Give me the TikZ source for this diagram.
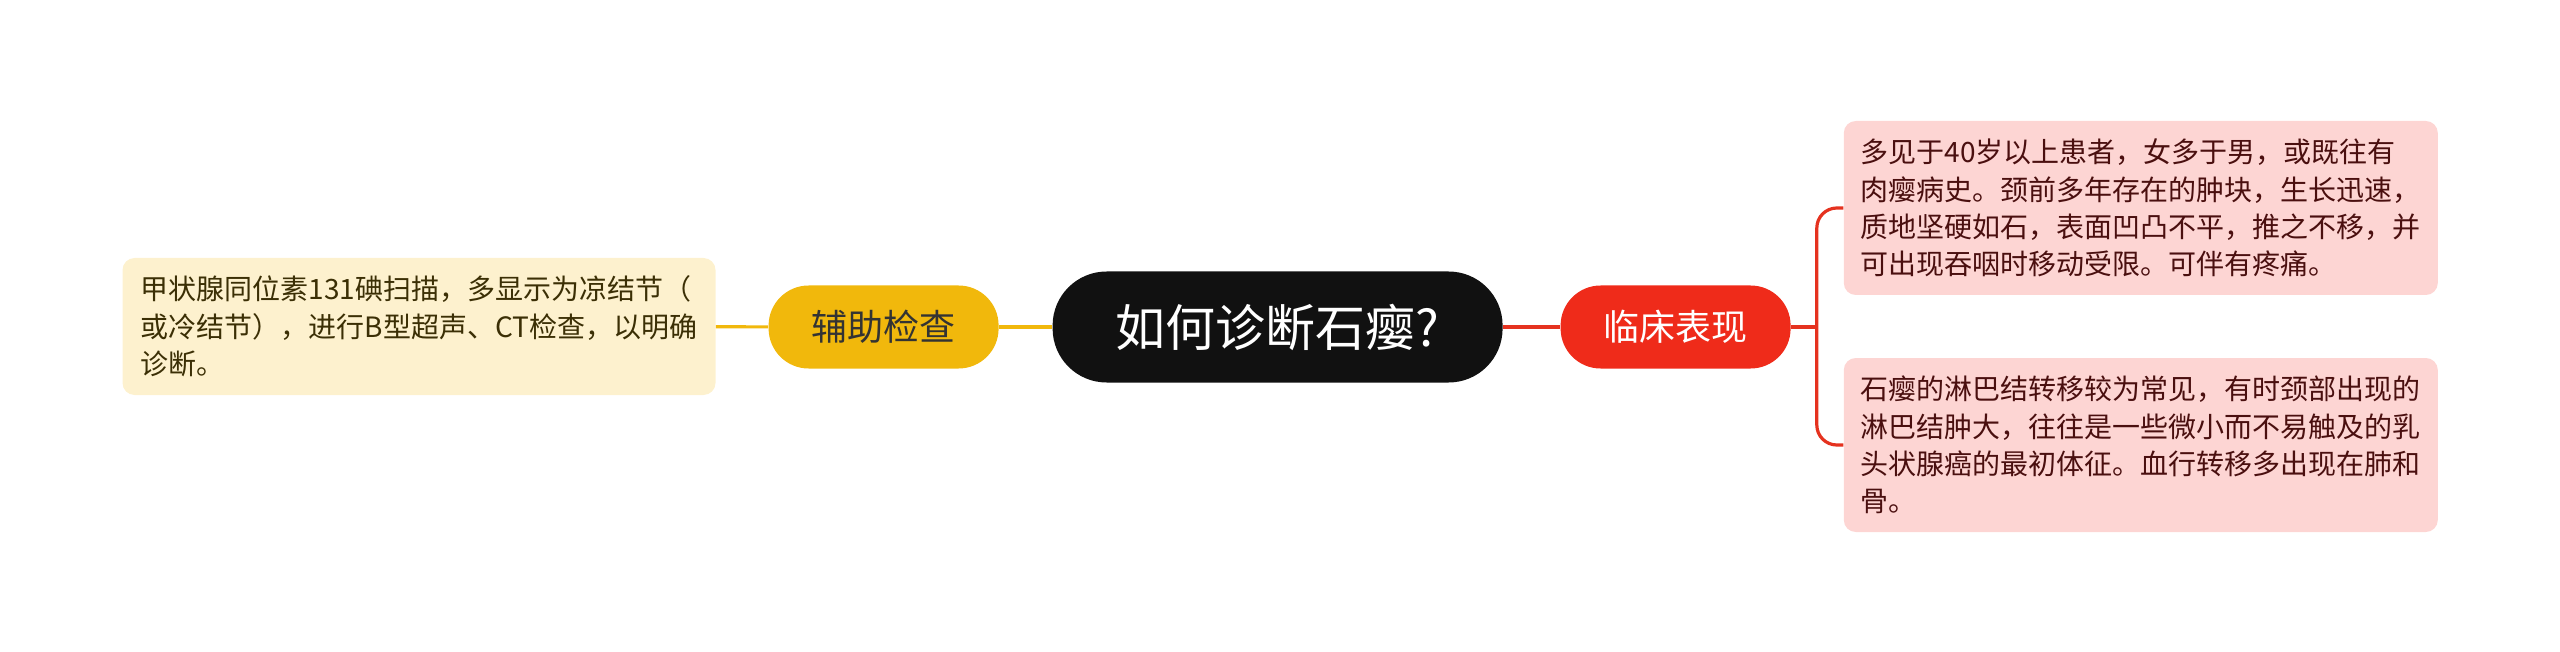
\documentclass[tikz,border=0pt]{standalone}
\usepackage{fontspec}
\setmainfont{Noto Sans CJK SC}
\usetikzlibrary{positioning, shapes.geometric}
\definecolor{rootbg}{HTML}{111111}
\definecolor{gold}{HTML}{F1B80C}
\definecolor{goldnote}{HTML}{FDF1CE}
\definecolor{goldtext}{HTML}{3B2F05}
\definecolor{redtopic}{HTML}{EF2B1A}
\definecolor{redline}{HTML}{E5321F}
\definecolor{pinknote}{HTML}{FDD5D3}
\definecolor{pinktext}{HTML}{4A0F0F}

\begin{document}
\begin{tikzpicture} [x=1pt, y=1pt,
  topic/.style={rectangle, rounded corners=20pt, minimum width=115pt, minimum height=41.5pt, inner sep=0pt, font=\fontsize{18pt}{20pt}\selectfont},
  note/.style={rectangle, rounded corners=6pt, inner sep=0pt, align=left, font=\fontsize{14pt}{18.7pt}\selectfont},
  link/.style={line width=1.6pt}]
  \useasboundingbox (0,0) rectangle (1280,-326);
  \draw (638.8,-163.5) node[topic, fill=rootbg, text=white, minimum width=225pt, minimum height=55.5pt, rounded corners=27pt, font=\fontsize{25pt}{28pt}\selectfont](root) {如何诊断石瘿?};
  \draw (441.8,-163.5) node[topic, fill=gold, text=black!80](aux) {辅助检查};
  \draw (837.8,-163.5) node[topic, fill=redtopic, text=white](sym) {临床表现};
  \draw (209.5,-163.25) node[note, fill=goldnote, text=goldtext, minimum width=296.5pt, minimum height=68.5pt](auxnote) {甲状腺同位素131碘扫描，多显示为凉结节（\\或冷结节），进行B型超声、CT检查，以明确\\诊断。};
  \draw (1070.4,-104) node[note, fill=pinknote, text=pinktext, minimum width=297pt, minimum height=87pt](symA) {多见于40岁以上患者，女多于男，或既往有\\肉瘿病史。颈前多年存在的肿块，生长迅速，\\质地坚硬如石，表面凹凸不平，推之不移，并\\可出现吞咽时移动受限。可伴有疼痛。};
  \draw (1070.4,-222.5) node[note, fill=pinknote, text=pinktext, minimum width=297pt, minimum height=87pt](symB) {石瘿的淋巴结转移较为常见，有时颈部出现的\\淋巴结肿大，往往是一些微小而不易触及的乳\\头状腺癌的最初体征。血行转移多出现在肺和\\骨。};
  \coordinate (fork) at (908.4,-163.5);

\path (root) edge[link, gold] (aux)
             edge[link, redline] (sym)
      (aux)  edge[link, gold] (auxnote)
      (sym)  edge[link, redline] (fork);
\draw[link, redline, rounded corners=10pt] (symA.west) -| (fork) |- (symB.west);
\end{tikzpicture}
\end{document}
